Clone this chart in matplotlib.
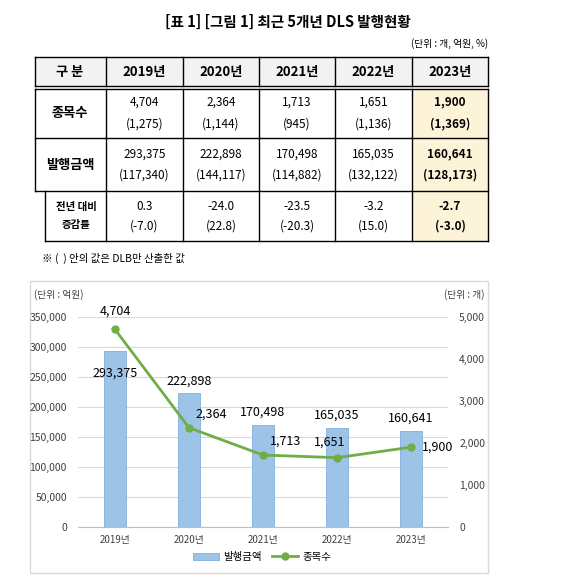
import matplotlib
matplotlib.use("Agg")
import matplotlib.pyplot as plt
from matplotlib.patches import Rectangle

plt.rcParams['font.family'] = ['Noto Sans CJK KR', 'DejaVu Sans']

years = ['2019년', '2020년', '2021년', '2022년', '2023년']
counts = [4704, 2364, 1713, 1651, 1900]
counts_dlb = [1275, 1144, 945, 1136, 1369]
amounts = [293375, 222898, 170498, 165035, 160641]
amounts_dlb = [117340, 144117, 114882, 132122, 128173]
growth = [0.3, -24.0, -23.5, -3.2, -2.7]
growth_dlb = [-7.0, 22.8, -20.3, 15.0, -3.0]

W, H = 576, 580
fig = plt.figure(figsize=(W / 100, H / 100), dpi=100)
bg = fig.add_axes([0, 0, 1, 1])
bg.set_xlim(0, W); bg.set_ylim(H, 0); bg.axis('off')

bg.text(288, 22, '[표 1] [그림 1] 최근 5개년 DLS 발행현황', ha='center', va='center',
        fontsize=10.5, fontweight='bold')
bg.text(488, 44, '(단위 : 개, 억원, %)', ha='right', va='center', fontsize=7)

cols = [35, 106, 183, 259, 335, 412, 488]
bg.add_patch(Rectangle((35, 57), 453, 29, fc='#f2f2f2', ec='none'))
bg.add_patch(Rectangle((412, 89), 76, 152, fc='#fdf3d9', ec='none'))
lw = 1.0
for y in [57, 86, 89, 138, 191, 241]:
    x0 = 45 if y == 241 else 35
    bg.plot([x0, 488], [y, y], color='black', lw=lw)
for x in cols:
    bg.plot([x, x], [57, 86], color='black', lw=lw)
    bg.plot([x, x], [89, 191 if x == 35 else 241], color='black', lw=lw)
bg.plot([45, 45], [191, 241], color='black', lw=lw)

bg.text(70, 72, '구 분', ha='center', va='center', fontsize=9.5, fontweight='bold')
for i, yr in enumerate(years):
    cx = (cols[i + 1] + cols[i + 2]) / 2
    bg.text(cx, 72, yr, ha='center', va='center', fontsize=9.5, fontweight='bold')
bg.text(70, 113, '종목수', ha='center', va='center', fontsize=9.5, fontweight='bold')
bg.text(70, 165, '발행금액', ha='center', va='center', fontsize=9.5, fontweight='bold')
bg.text(76, 207, '전년 대비', ha='center', va='center', fontsize=7.5, fontweight='bold')
bg.text(76, 225, '증감률', ha='center', va='center', fontsize=7.5, fontweight='bold')
for i in range(5):
    cx = (cols[i + 1] + cols[i + 2]) / 2
    fw = 'bold' if i == 4 else 'normal'
    bg.text(cx, 102, f'{counts[i]:,}', ha='center', va='center', fontsize=8.5, fontweight=fw)
    bg.text(cx, 124, f'({counts_dlb[i]:,})', ha='center', va='center', fontsize=8.5, fontweight=fw)
    bg.text(cx, 154, f'{amounts[i]:,}', ha='center', va='center', fontsize=8.5, fontweight=fw)
    bg.text(cx, 175, f'({amounts_dlb[i]:,})', ha='center', va='center', fontsize=8.5, fontweight=fw)
    bg.text(cx, 206, f'{growth[i]:.1f}', ha='center', va='center', fontsize=8.5, fontweight=fw)
    bg.text(cx, 226, f'({growth_dlb[i]:.1f})', ha='center', va='center', fontsize=8.5, fontweight=fw)
bg.text(42, 258, '※ (  ) 안의 값은 DLB만 산출한 값', ha='left', va='center', fontsize=7.5)

bg.add_patch(Rectangle((30, 281), 458, 292, fc='none', ec='#d9d9d9', lw=1))
bg.text(34, 295, '(단위 : 억원)', ha='left', va='center', fontsize=7, color='#404040')
bg.text(484, 295, '(단위 : 개)', ha='right', va='center', fontsize=7, color='#404040')

ax = fig.add_axes([78 / W, 1 - 527 / H, 370 / W, 210 / H])
x = list(range(5))
ax.bar(x, amounts, width=0.31, color='#9dc3e6', edgecolor='#7fb0df', lw=0.6, label='발행금액', zorder=2)
ax.set_xlim(-0.5, 4.5)
ax.set_ylim(0, 350000)
ax.set_yticks(range(0, 350001, 50000))
ax.set_yticklabels([f'{v:,}' for v in range(0, 350001, 50000)], fontsize=7.5, color='#404040')
ax.grid(axis='y', color='#d9d9d9', lw=0.8, zorder=0)
ax.set_xticks(x)
ax.set_xticklabels(years, fontsize=7, color='#404040')
for s in ['top', 'right', 'left']:
    ax.spines[s].set_visible(False)
ax.spines['bottom'].set_color('#bfbfbf')
ax.tick_params(axis='x', length=0, pad=6)
ax.tick_params(axis='y', length=0, pad=8)
ax2 = ax.twinx()
ax2.plot(x, counts, color='#70ad47', lw=2, marker='o', ms=5, label='종목수', zorder=3)
ax2.set_ylim(0, 5000)
ax2.set_yticks(range(0, 5001, 1000))
ax2.set_yticklabels([f'{v:,}' for v in range(0, 5001, 1000)], fontsize=7.5, color='#404040')
for s in ['top', 'right', 'left', 'bottom']:
    ax2.spines[s].set_visible(False)
ax2.tick_params(length=0, pad=8)

bar_off = [(0, -16), (0, 9), (0, 9), (0, 9), (0, 9)]
for i in range(5):
    ax.annotate(f'{amounts[i]:,}', (x[i], amounts[i]), xytext=bar_off[i], textcoords='offset points',
                ha='center', va='center', fontsize=9)
line_off = [(0, 13), (16, 10), (16, 10), (-5, 11), (19, 0)]
for i in range(5):
    ax2.annotate(f'{counts[i]:,}', (x[i], counts[i]), xytext=line_off[i], textcoords='offset points',
                 ha='center', va='center', fontsize=9)

h1, l1 = ax.get_legend_handles_labels()
h2, l2 = ax2.get_legend_handles_labels()
fig.legend(h1 + h2, l1 + l2, loc='center', bbox_to_anchor=(262 / W, 1 - 557 / H), ncol=2,
           frameon=False, fontsize=7.5, handlelength=2.5, columnspacing=1.0, handletextpad=0.4)

fig.savefig('out.png', dpi=100)
